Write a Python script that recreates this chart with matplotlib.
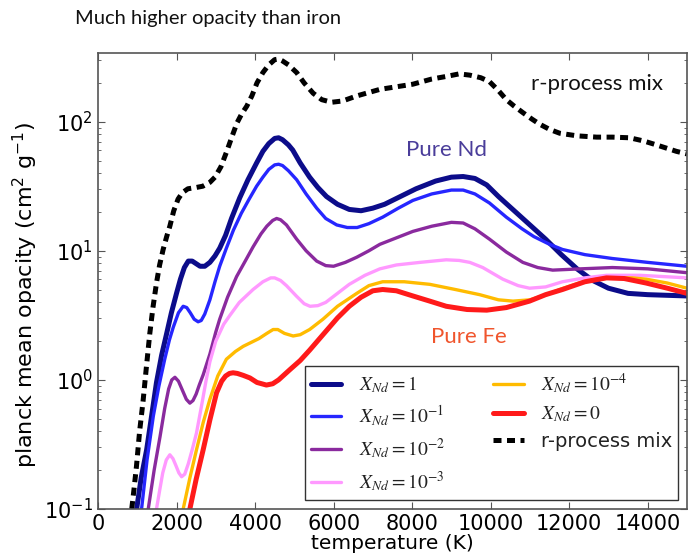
import numpy as np
import matplotlib
matplotlib.use("Agg")
import matplotlib.pyplot as plt
from matplotlib.font_manager import FontProperties
from matplotlib.ticker import LogLocator

# ── DATA (temperature in K, log10 of planck mean opacity in cm^2/g) ──
t_nd1 = [985, 1100, 1240, 1370, 1490, 1620, 1750, 1870, 2000, 2100, 2200, 2300, 2400, 2500,
         2600, 2720, 2850, 2980, 3100, 3250, 3400, 3610, 3820, 4040, 4200, 4350, 4500, 4600,
         4700, 4850, 4960, 5150, 5390, 5600, 5820, 6100, 6400, 6700, 7000, 7300, 7700, 8100,
         8600, 9000, 9300, 9600, 9900, 10200, 10600, 11000, 11400, 11800, 12200, 12600,
         13000, 13500, 14000, 15000]
logk_nd1 = [-1.0, -0.76, -0.54, -0.27, -0.02, 0.19, 0.36, 0.52, 0.67, 0.78, 0.87, 0.92, 0.92, 0.90,
            0.88, 0.88, 0.91, 0.96, 1.02, 1.12, 1.25, 1.41, 1.55, 1.68, 1.77, 1.83, 1.87, 1.875,
            1.86, 1.82, 1.78, 1.68, 1.57, 1.49, 1.42, 1.36, 1.32, 1.31, 1.33, 1.36, 1.42, 1.48,
            1.54, 1.57, 1.575, 1.56, 1.51, 1.42, 1.31, 1.20, 1.09, 0.97, 0.86, 0.77,
            0.71, 0.67, 0.66, 0.65]

t_nd1e1 = [1110, 1250, 1410, 1550, 1700, 1820, 1920, 2050, 2170, 2260, 2350, 2450, 2550, 2630,
           2720, 2850, 2980, 3100, 3270, 3450, 3650, 3850, 4040, 4200, 4350, 4500, 4600, 4700,
           4850, 5060, 5300, 5570, 5800, 6080, 6350, 6600, 6900, 7250, 7650, 8020, 8500, 9000,
           9300, 9600, 9970, 10400, 10800, 11100, 11500, 11830, 12400, 13100, 14000, 15000]
logk_nd1e1 = [-1.0, -0.62, -0.28, -0.05, 0.16, 0.31, 0.41, 0.52, 0.57, 0.56, 0.52, 0.47, 0.45, 0.46,
              0.51, 0.62, 0.76, 0.88, 1.02, 1.16, 1.29, 1.40, 1.50, 1.57, 1.63, 1.665, 1.67, 1.66,
              1.62, 1.55, 1.44, 1.33, 1.25, 1.20, 1.18, 1.18, 1.21, 1.26, 1.33, 1.39, 1.44, 1.47,
              1.47, 1.44, 1.37, 1.26, 1.17, 1.11, 1.05, 1.01, 0.97, 0.94, 0.91, 0.88]

t_nd1e2 = [1280, 1430, 1580, 1700, 1800, 1880, 1960, 2050, 2150, 2250, 2340, 2420, 2500, 2580,
           2680, 2850, 3000, 3100, 3300, 3530, 3750, 3950, 4150, 4300, 4450, 4550, 4650, 4800,
           5060, 5300, 5570, 5800, 6000, 6300, 6590, 6900, 7180, 7600, 8020, 8500, 9000, 9300,
           9600, 9970, 10400, 10820, 11200, 11580, 12300, 13100, 14000, 15000]
logk_nd1e2 = [-1.0, -0.70, -0.44, -0.22, -0.07, 0.00, 0.02, -0.01, -0.08, -0.15, -0.18, -0.16, -0.11, -0.04,
              0.04, 0.20, 0.37, 0.47, 0.64, 0.80, 0.92, 1.03, 1.13, 1.19, 1.235, 1.25, 1.24, 1.20,
              1.09, 1.00, 0.92, 0.885, 0.88, 0.91, 0.95, 1.00, 1.05, 1.10, 1.15, 1.19, 1.22, 1.215,
              1.17, 1.09, 0.99, 0.91, 0.87, 0.85, 0.86, 0.87, 0.86, 0.83]

t_nd1e3 = [1490, 1580, 1650, 1740, 1830, 1910, 1980, 2060, 2130, 2210, 2300, 2400, 2510, 2650,
           2750, 2850, 3000, 3200, 3360, 3600, 3950, 4200, 4400, 4500, 4650, 4800, 5050, 5250,
           5400, 5600, 5800, 6100, 6400, 6800, 7180, 7600, 8200, 8870, 9200, 9470, 9800, 10310,
           10700, 10990, 11400, 11830, 12400, 12950, 13800, 15000]
logk_nd1e3 = [-1.0, -0.84, -0.72, -0.62, -0.58, -0.61, -0.66, -0.72, -0.75, -0.73, -0.65, -0.54, -0.41, -0.18,
              -0.01, 0.14, 0.30, 0.43, 0.50, 0.60, 0.70, 0.76, 0.79, 0.79, 0.77, 0.73, 0.65, 0.59,
              0.57, 0.575, 0.60, 0.67, 0.74, 0.81, 0.86, 0.89, 0.91, 0.93, 0.925, 0.91, 0.87, 0.78,
              0.73, 0.71, 0.72, 0.76, 0.79, 0.81, 0.81, 0.79]

t_nd1e4 = [2170, 2340, 2510, 2680, 2850, 3050, 3270, 3500, 3700, 3900, 4100, 4300, 4460, 4580,
           4750, 4970, 5150, 5390, 5730, 6100, 6590, 6900, 7250, 7800, 8450, 9100, 9720, 10200,
           10570, 11000, 11420, 11850, 12260, 12700, 13100, 13600, 13960, 14500, 15000]
logk_nd1e4 = [-1.0, -0.76, -0.54, -0.33, -0.15, 0.03, 0.16, 0.22, 0.26, 0.29, 0.32, 0.36, 0.39, 0.39,
              0.36, 0.34, 0.35, 0.39, 0.47, 0.57, 0.67, 0.73, 0.76, 0.76, 0.74, 0.70, 0.66, 0.62,
              0.61, 0.62, 0.66, 0.71, 0.75, 0.78, 0.79, 0.79, 0.78, 0.75, 0.71]

t_fe = [2340, 2500, 2680, 2850, 3020, 3150, 3250, 3350, 3440, 3550, 3700, 3870, 4050, 4290,
        4450, 4600, 4890, 5150, 5390, 5730, 6100, 6400, 6700, 7000, 7250, 7600, 8020, 8450,
        8870, 9400, 9900, 10400, 10990, 11400, 11830, 12400, 12950, 13400, 13960, 14500, 15000]
logk_fe = [-1.0, -0.77, -0.54, -0.31, -0.10, -0.01, 0.03, 0.05, 0.055, 0.05, 0.035, 0.015, -0.02, -0.04,
           -0.03, 0.00, 0.08, 0.15, 0.23, 0.35, 0.48, 0.57, 0.64, 0.69, 0.70, 0.69, 0.65, 0.61,
           0.57, 0.545, 0.54, 0.56, 0.61, 0.66, 0.70, 0.76, 0.79, 0.785, 0.75, 0.71, 0.67]

t_mix = [860, 920, 980, 1060, 1150, 1230, 1320, 1400, 1490, 1570, 1660, 1750, 1830, 1930,
         2040, 2150, 2290, 2500, 2670, 2850, 2980, 3130, 3280, 3420, 3540, 3660, 3790, 3920,
         4050, 4200, 4350, 4500, 4600, 4700, 4850, 5060, 5250, 5480, 5700, 5950, 6230, 6600,
         7180, 7600, 8020, 8500, 8870, 9200, 9470, 9750, 9970, 10200, 10400, 10600, 10820,
         11050, 11250, 11500, 11760, 12200, 12700, 13100, 13540, 13900, 14220, 14730, 15000]
logk_mix = [-1.0, -0.84, -0.67, -0.40, -0.16, 0.09, 0.36, 0.56, 0.75, 0.89, 1.01, 1.11, 1.19, 1.31,
            1.40, 1.45, 1.48, 1.49, 1.50, 1.53, 1.57, 1.65, 1.77, 1.89, 1.99, 2.06, 2.12, 2.20,
            2.30, 2.38, 2.44, 2.48, 2.485, 2.47, 2.44, 2.38, 2.30, 2.22, 2.17, 2.15, 2.16, 2.20,
            2.25, 2.27, 2.29, 2.33, 2.35, 2.37, 2.36, 2.34, 2.31, 2.24, 2.17, 2.12, 2.07,
            2.02, 1.98, 1.94, 1.91, 1.89, 1.88, 1.88, 1.875, 1.85, 1.82, 1.77, 1.75]

labels = [r"$X_{Nd}=1$", r"$X_{Nd}=10^{-1}$", r"$X_{Nd}=10^{-2}$", r"$X_{Nd}=10^{-3}$",
          r"$X_{Nd}=10^{-4}$", r"$X_{Nd}=0$", "r-process mix"]

# ── FIGURE ───────────────────────────────────────────────────
fig = plt.figure(figsize=(6.88, 5.58), dpi=100)
ax = fig.add_axes([0.1424, 0.0878, 0.8561, 0.8172])

series = [
    (t_nd1,   logk_nd1,   "#0c0c8a", 3.6),
    (t_nd1e1, logk_nd1e1, "#2626ff", 2.4),
    (t_nd1e2, logk_nd1e2, "#8a2a9e", 2.4),
    (t_nd1e3, logk_nd1e3, "#ff99ff", 2.4),
    (t_nd1e4, logk_nd1e4, "#ffbb00", 2.4),
    (t_fe,    logk_fe,    "#ff1a1a", 3.6),
]
for (t, lk, col, lw), lab in zip(series, labels[:6]):
    ax.plot(t, 10 ** np.array(lk), color=col, lw=lw, label=lab,
            solid_joinstyle="round", solid_capstyle="round")

ax.plot(t_mix, 10 ** np.array(logk_mix), color="black", lw=3.6, dashes=(1.6, 1.1),
        label=labels[6])

ax.set_yscale("log")
ax.set_xlim(0, 15000)
ax.set_ylim(0.1, 340)
ax.set_xticks(range(0, 15000, 2000))
ax.yaxis.set_minor_locator(LogLocator(base=10, subs=np.arange(2, 10), numticks=20))
ax.tick_params(which="both", direction="in", top=True, right=True, labelsize=15,
               color="#555555")
ax.tick_params(which="major", length=5)
ax.tick_params(which="minor", length=2.5)
for sp in ax.spines.values():
    sp.set_color("#555555")
    sp.set_linewidth(1.2)

ax.set_xlabel("temperature (K)", fontsize=14.5, labelpad=0)
ax.set_ylabel(r"planck mean opacity (cm$^2$ g$^{-1}$)", fontsize=16)
ax.yaxis.set_label_coords(-0.098, 0.47)

# annotations
ann_font = "Lato"
ax.text(12700, 10 ** 2.29, "r-process mix", fontsize=16, family=ann_font,
        ha="center", va="center", color="#111111")
ax.text(8880, 10 ** 1.78, "Pure Nd", fontsize=16, family=ann_font,
        ha="center", va="center", color="#4a3d9a")
ax.text(9450, 10 ** 0.33, "Pure Fe", fontsize=16, family=ann_font,
        ha="center", va="center", color="#f0552d")
fig.text(0.109, 0.967, "Much higher opacity than iron", fontsize=14.5, family=ann_font,
         ha="left", va="center", color="#111111")

leg_font = FontProperties(size=14, math_fontfamily="stix")
leg = ax.legend(ncol=2, loc="lower right", bbox_to_anchor=(0.985, 0.02),
                borderaxespad=0, prop=leg_font, fancybox=False, framealpha=1,
                handlelength=1.55, handletextpad=0.9, columnspacing=2.5,
                labelspacing=0.42, borderpad=0.3)
leg.get_frame().set_edgecolor("#333333")
leg.get_frame().set_linewidth(1.0)
for txt in leg.get_texts():
    txt.set_color("#222222")

fig.savefig("out.png", dpi=100)
